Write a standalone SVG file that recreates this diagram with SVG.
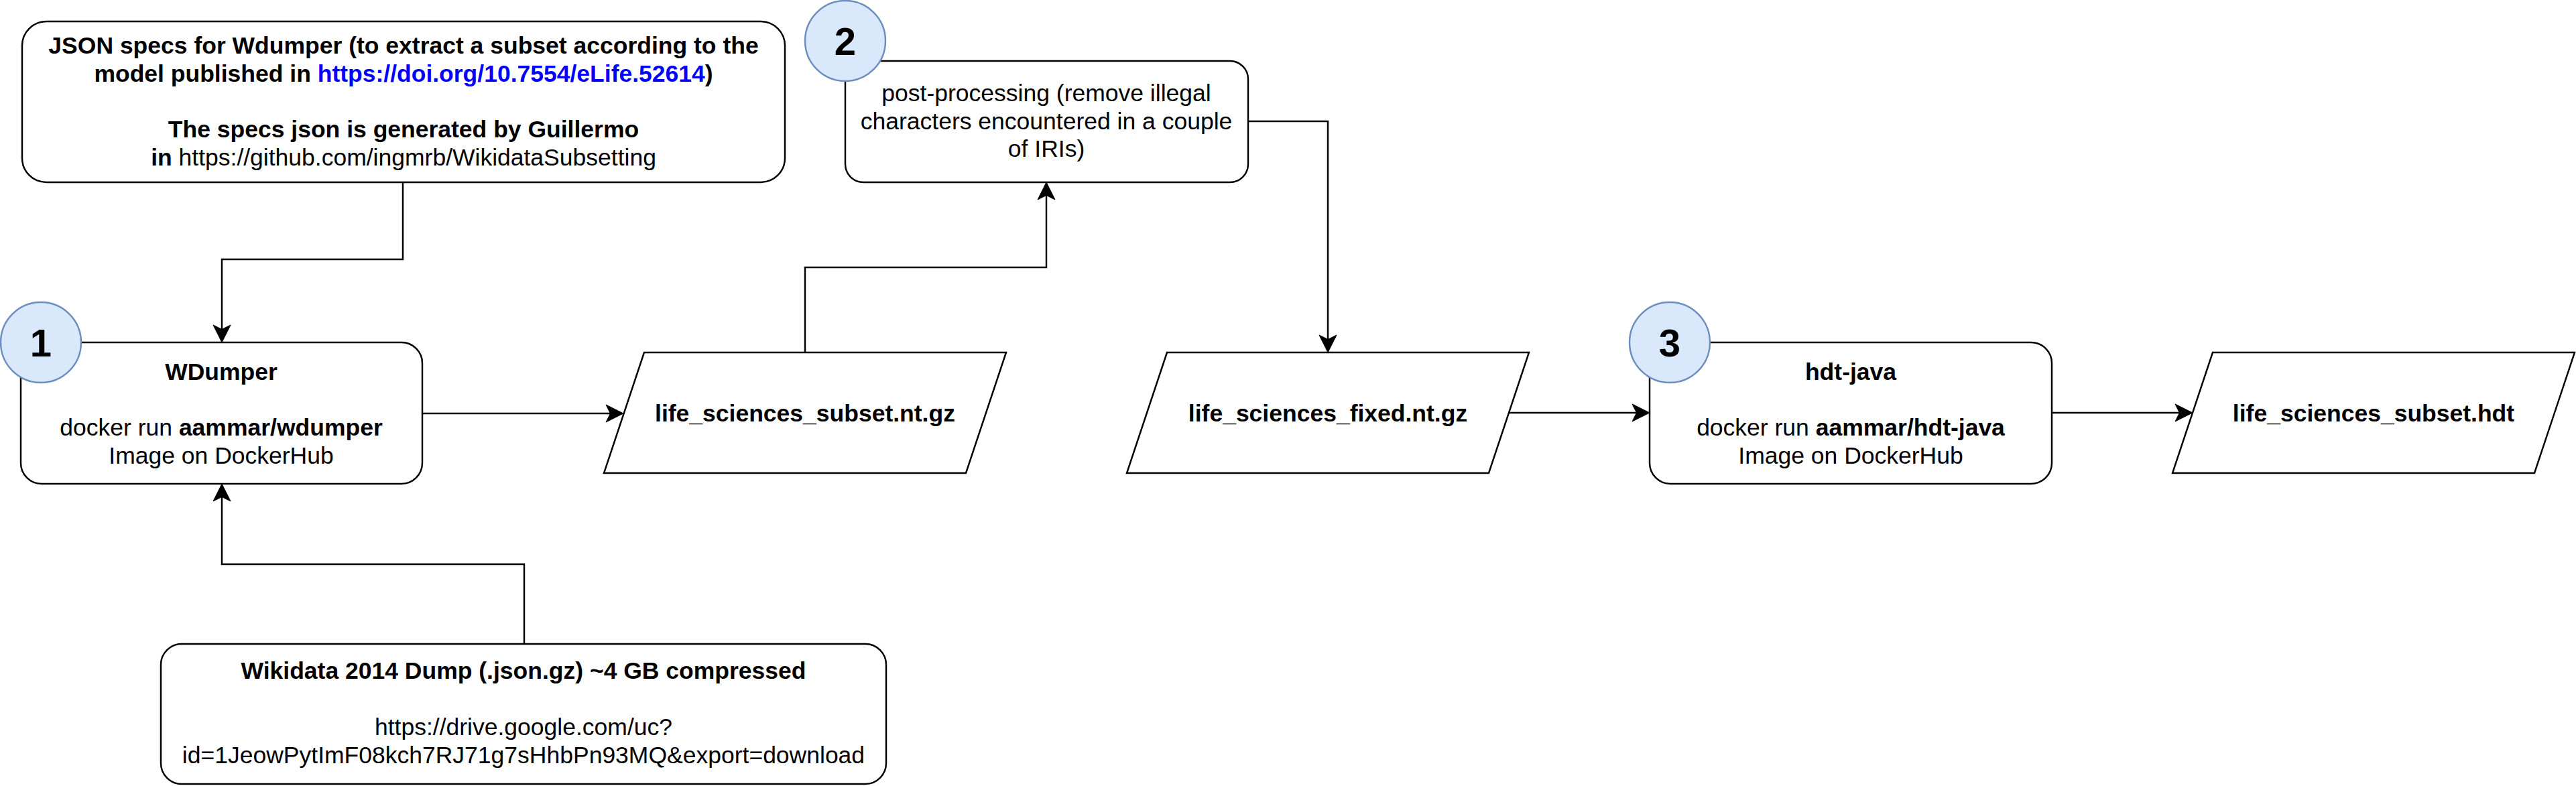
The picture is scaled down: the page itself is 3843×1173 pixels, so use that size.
<svg xmlns="http://www.w3.org/2000/svg" width="3843" height="1173" viewBox="0 0 3843 1173">
<style>
.box{fill:#ffffff;stroke:#000000;stroke-width:2.45}
.num{fill:#dae8fc;stroke:#6c8ebf;stroke-width:2.45}
.t{font-family:"Liberation Sans",Arial,Helvetica,sans-serif;font-size:35.5px;fill:#000000;text-anchor:middle}
.b{font-weight:bold}
.n{font-family:"Liberation Sans",Arial,Helvetica,sans-serif;font-size:58px;font-weight:bold;fill:#000000;text-anchor:middle}
.link{fill:#0000ff}
.edge{fill:none;stroke:#000000;stroke-width:2.45}
</style>
<defs>
<marker id="arrow" markerUnits="userSpaceOnUse" viewBox="-20 -15 32 30" markerWidth="32" markerHeight="30" refX="0" refY="0" orient="auto">
<path d="M10,0 L-16,-13 L-9.5,0 L-16,13 Z" fill="#000000" stroke="#000000" stroke-width="1"/>
</marker>
</defs>
<rect width="3843" height="1173" fill="#ffffff"/>

<g id="connectors">
<path class="edge" d="M601,272 L601,387 L331,387 L331,501" marker-end="url(#arrow)"/>
<path class="edge" d="M782,961 L782,842 L331,842 L331,732" marker-end="url(#arrow)"/>
<path class="edge" d="M630,617 L920,617" marker-end="url(#arrow)"/>
<path class="edge" d="M1201,526 L1201,399 L1561,399 L1561,282" marker-end="url(#arrow)"/>
<path class="edge" d="M1862,181 L1981,181 L1981,516" marker-end="url(#arrow)"/>
<path class="edge" d="M2252,616 L2451,616" marker-end="url(#arrow)"/>
<path class="edge" d="M3061,616 L3261,616" marker-end="url(#arrow)"/>
</g>

<g id="json-specs">
<rect class="box" x="33" y="32" width="1138" height="240" rx="36" ry="36"/>
<text class="t b" x="602" y="80">JSON specs for Wdumper (to extract a subset according to the</text>
<text class="t b" x="602" y="122">model published in <tspan class="link">https://doi.org/10.7554/eLife.52614</tspan>)</text>
<text class="t b" x="602" y="205">The specs json is generated by Guillermo</text>
<text class="t" x="602" y="247"><tspan class="b">in</tspan> https://github.com/ingmrb/WikidataSubsetting</text>
</g>

<g id="wdumper">
<rect class="box" x="31" y="511" width="599" height="211" rx="31" ry="31"/>
<text class="t b" x="330" y="567">WDumper</text>
<text class="t" x="330" y="650">docker run <tspan class="b">aammar/wdumper</tspan></text>
<text class="t" x="330" y="692">Image on DockerHub</text>
</g>

<g id="step1">
<circle class="num" cx="61" cy="511" r="60"/>
<text class="n" x="61" y="532">1</text>
</g>

<g id="wikidata-dump">
<rect class="box" x="240" y="961" width="1082" height="209" rx="31" ry="31"/>
<text class="t b" x="781" y="1013">Wikidata 2014 Dump (.json.gz) ~4 GB compressed</text>
<text class="t" x="781" y="1097">https://drive.google.com/uc?</text>
<text class="t" x="781" y="1139">id=1JeowPytImF08kch7RJ71g7sHhbPn93MQ&amp;export=download</text>
</g>

<g id="subset-nt">
<polygon class="box" points="961,526 1501,526 1441,706 901,706"/>
<text class="t b" x="1201" y="629">life_sciences_subset.nt.gz</text>
</g>

<g id="post-processing">
<rect class="box" x="1261" y="91" width="601" height="181" rx="27" ry="27"/>
<text class="t" x="1561" y="151">post-processing (remove illegal</text>
<text class="t" x="1561" y="193">characters encountered in a couple</text>
<text class="t" x="1561" y="234">of IRIs)</text>
</g>

<g id="step2">
<circle class="num" cx="1261" cy="61" r="60"/>
<text class="n" x="1261" y="82">2</text>
</g>

<g id="fixed-nt">
<polygon class="box" points="1741,526 2281,526 2221,706 1681,706"/>
<text class="t b" x="1981" y="629">life_sciences_fixed.nt.gz</text>
</g>

<g id="hdt-java">
<rect class="box" x="2461" y="511" width="600" height="211" rx="31" ry="31"/>
<text class="t b" x="2761" y="567">hdt-java</text>
<text class="t" x="2761" y="650">docker run <tspan class="b">aammar/hdt-java</tspan></text>
<text class="t" x="2761" y="692">Image on DockerHub</text>
</g>

<g id="step3">
<circle class="num" cx="2491" cy="511" r="60"/>
<text class="n" x="2491" y="532">3</text>
</g>

<g id="subset-hdt">
<polygon class="box" points="3301,526 3841,526 3781,706 3241,706"/>
<text class="t b" x="3541" y="629">life_sciences_subset.hdt</text>
</g>
</svg>
